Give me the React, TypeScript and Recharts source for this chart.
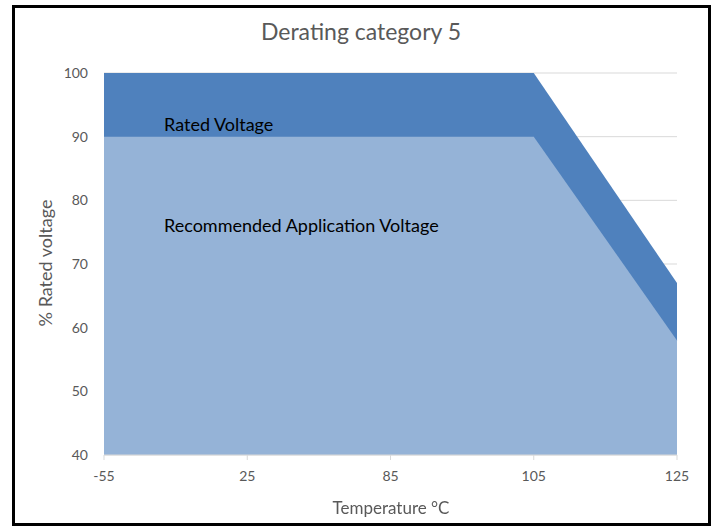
import { AreaChart, Area, XAxis, YAxis, CartesianGrid } from 'recharts';

const temps = ['-55', '25', '85', '105', '125'];
const ratedVoltage = [100, 100, 100, 100, 67];
const recommendedVoltage = [90, 90, 90, 90, 58];
const yTicks = [40, 50, 60, 70, 80, 90, 100];

const data = temps.map((t, i) => ({
  temp: t,
  rated: ratedVoltage[i],
  recommended: recommendedVoltage[i],
}));

const FONT = 'Lato, "Open Sans", sans-serif';
const GREY = '#595959';

const bar = (left: number, top: number, width: number, height: number) => (
  <div style={{ position: 'absolute', left, top, width, height, background: '#000', zIndex: 5 }} />
);

export default function App() {
  return (
    <div style={{ position: 'fixed', left: 0, top: 0, width: 716, height: 529, background: '#fff', fontFamily: FONT }}>
      <div style={{ position: 'absolute', left: 0, top: 17, width: 722, textAlign: 'center', fontSize: 23, color: GREY }}>
        Derating category 5
      </div>

      <div style={{ position: 'absolute', left: 0, top: 0 }}>
        <AreaChart
          width={716}
          height={529}
          data={data}
          margin={{ top: 73, right: 39, bottom: 44, left: 0 }}
        >
          <CartesianGrid vertical={false} stroke="#D9D9D9" />
          <XAxis
            dataKey="temp"
            height={30}
            stroke="#D9D9D9"
            tickSize={5}
            tickMargin={11}
            tick={{ fill: GREY, fontSize: 14, fontFamily: FONT }}
          />
          <YAxis
            width={104}
            domain={[40, 100]}
            ticks={yTicks}
            axisLine={false}
            tickLine={false}
            tickSize={0}
            tickMargin={16}
            tick={{ fill: GREY, fontSize: 14, fontFamily: FONT }}
          />
          <Area
            type="linear"
            dataKey="rated"
            stroke="none"
            fill="#4F81BD"
            fillOpacity={1}
            isAnimationActive={false}
          />
          <Area
            type="linear"
            dataKey="recommended"
            stroke="none"
            fill="#95B3D7"
            fillOpacity={1}
            isAnimationActive={false}
          />
        </AreaChart>
      </div>

      <div style={{ position: 'absolute', left: 164, top: 113, fontSize: 18, color: '#000' }}>Rated Voltage</div>
      <div style={{ position: 'absolute', left: 164, top: 214, fontSize: 18, color: '#000' }}>
        Recommended Application Voltage
      </div>

      <div style={{ position: 'absolute', left: 0, top: 497, width: 782, textAlign: 'center', fontSize: 17, color: GREY }}>
        Temperature °C
      </div>
      <div
        style={{
          position: 'absolute',
          left: 45,
          top: 263,
          transform: 'translate(-50%, -50%) rotate(-90deg)',
          whiteSpace: 'nowrap',
          fontSize: 18,
          color: GREY,
        }}
      >
        % Rated voltage
      </div>

      {/* outer frame */}
      {bar(12, 5, 699, 3)}
      {bar(12, 523, 699, 3)}
      {bar(12, 5, 3, 521)}
      {bar(708, 5, 3, 521)}
    </div>
  );
}
